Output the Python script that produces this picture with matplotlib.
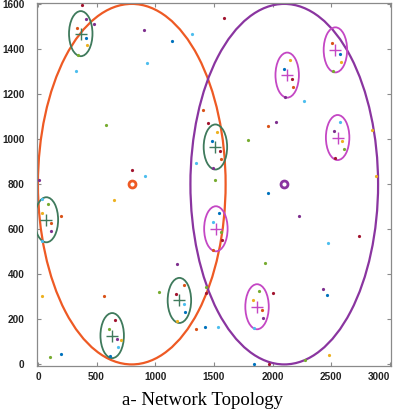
import matplotlib
matplotlib.use("Agg")
import matplotlib.pyplot as plt
from matplotlib.patches import Ellipse

# ---- data ----
net_cx = [800, 2100]
net_cy = [800, 800]
net_r = 800

green_heads_x = [365, 1513, 72, 633, 1206]
green_heads_y = [1468, 965, 642, 128, 284]
magenta_heads_x = [2125, 2536, 2555, 1517, 1868]
magenta_heads_y = [1284, 1396, 1007, 602, 256]
cluster_r = 100

blue_x = [407, 1145, 1481, 1963, 1540, 1253, 1421, 2464, 611, 199, 1841, 2095, 2577]
blue_y = [1450, 1437, 991, 760, 673, 234, 167, 308, 37, 47, 0, 1311, 1379]
orange_x = [332, 1404, 108, 199, 1958, 1560, 1494, 1907, 565, 1245, 1347, 2506, 2174]
orange_y = [1495, 1127, 628, 658, 1056, 911, 508, 240, 304, 352, 158, 1425, 1231]
yellow_x = [415, 651, 31, 1526, 2146, 2586, 2594, 2850, 2882, 1836, 34, 1182, 705, 2483]
yellow_y = [1416, 730, 674, 1032, 1351, 1344, 990, 1041, 837, 286, 302, 192, 108, 43]
purple_x = [407, 475, 901, 5, 114, 1489, 2026, 2103, 2526, 2222, 1915, 2433, 1188, 671]
purple_y = [1535, 1512, 1486, 819, 593, 871, 1078, 1189, 1036, 660, 204, 335, 444, 111]
green_x = [344, 580, 83, 1512, 1788, 2517, 2609, 1563, 1938, 1429, 1887, 1029, 605, 102, 2275]
green_y = [1375, 1064, 714, 820, 994, 1304, 956, 588, 452, 342, 326, 320, 157, 31, 18]
lblue_x = [321, 927, 1315, 912, 1344, 37, 31, 1489, 2268, 2577, 2470, 1537, 1844, 1245, 682]
lblue_y = [1302, 1339, 1467, 838, 896, 733, 548, 633, 1170, 1075, 540, 168, 163, 268, 76]
dred_x = [372, 1447, 804, 1586, 2165, 1549, 2535, 1569, 2738, 1435, 2001, 1174, 654, 1972]
dred_y = [1594, 1072, 862, 1536, 1267, 948, 914, 551, 572, 316, 316, 314, 197, 4]

x_ticks = [0, 500, 1000, 1500, 2000, 2500, 3000]
y_ticks = [0, 200, 400, 600, 800, 1000, 1200, 1400, 1600]
title = "a- Network Topology"

# ---- styles ----
c_orange_net = "#EE5A24"
c_purple_net = "#8A35A0"
c_green_cl = "#3F7A5C"
c_mag_cl = "#C447C4"

fig = plt.figure(figsize=(3.99, 4.15), dpi=100)
ax = fig.add_axes([37 / 399, 49 / 415, 354 / 399, 363 / 415])

for cx, cy, col in zip(net_cx, net_cy, [c_orange_net, c_purple_net]):
    ax.add_patch(Ellipse((cx, cy), 2 * net_r, 2 * net_r, fill=False,
                         edgecolor=col, linewidth=1.6, zorder=2))
    ax.plot([cx], [cy], marker='o', markersize=5, markeredgewidth=2.0,
            markerfacecolor='white', markeredgecolor=col, linestyle='none', zorder=5)

for hx, hy in zip(green_heads_x, green_heads_y):
    ax.add_patch(Ellipse((hx, hy), 2 * cluster_r, 2 * cluster_r, fill=False,
                         edgecolor=c_green_cl, linewidth=1.3, zorder=3))
ax.plot(green_heads_x, green_heads_y, linestyle='none', marker='+', markersize=9,
        markeredgewidth=1.0, color=c_green_cl, zorder=4)

for hx, hy in zip(magenta_heads_x, magenta_heads_y):
    ax.add_patch(Ellipse((hx, hy), 2 * cluster_r, 2 * cluster_r, fill=False,
                         edgecolor=c_mag_cl, linewidth=1.3, zorder=3))
ax.plot(magenta_heads_x, magenta_heads_y, linestyle='none', marker='+', markersize=9,
        markeredgewidth=1.0, color=c_mag_cl, zorder=4)

groups = [
    (blue_x, blue_y, "#0072BD"),
    (orange_x, orange_y, "#D95319"),
    (yellow_x, yellow_y, "#EDB120"),
    (purple_x, purple_y, "#7E2F8E"),
    (green_x, green_y, "#77AC30"),
    (lblue_x, lblue_y, "#4DBEEE"),
    (dred_x, dred_y, "#A2142F"),
]
for gx, gy, col in groups:
    ax.plot(gx, gy, linestyle='none', marker='o', markersize=2.3,
            markeredgewidth=0, color=col, zorder=6, clip_on=False)

ax.set_xlim(-8, 3010)
ax.set_ylim(-7, 1604)
ax.set_xticks(x_ticks)
ax.set_yticks(y_ticks)
ax.set_xticklabels([str(v) for v in x_ticks])
ax.set_yticklabels([str(v) for v in y_ticks])

for sp in ax.spines.values():
    sp.set_color("#8a8a8a")
    sp.set_linewidth(0.9)
ax.tick_params(direction='in', length=3, width=0.8, color="#8a8a8a",
               top=True, right=True, labelsize=7.2)
ax.tick_params(axis='y', pad=9)
ax.tick_params(axis='x', pad=4)
for lab in ax.get_xticklabels() + ax.get_yticklabels():
    lab.set_fontfamily("Liberation Sans")
    lab.set_fontweight("bold")
    lab.set_color("#222222")
ax.get_xticklabels()[-1].set_horizontalalignment('right')
ax.get_xticklabels()[-1].set_x(3010)

fig.text(203 / 399, 10 / 415, title, ha='center', va='baseline',
         fontsize=13.5, family="Liberation Serif", color="black")

fig.savefig("out.png", dpi=100)
